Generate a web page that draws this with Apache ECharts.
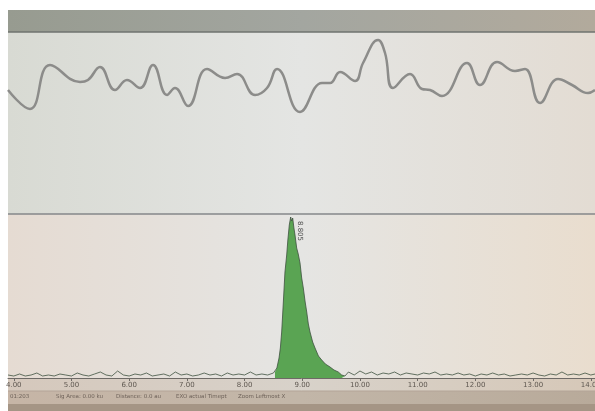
<!DOCTYPE html>
<html>
<head>
<meta charset="utf-8">
<script src="https://cdn.jsdelivr.net/npm/echarts@6/dist/echarts.min.js"></script>
<style>
html,body{margin:0;padding:0;background:#fff;}
#c{width:595px;height:411px;}
</style>
</head>
<body>
<div id="c"></div>
<script>
// ---- data ----
var waveTimes = [3.900,4.281,4.628,5.148,5.286,5.494,5.754,5.962,6.188,6.413,6.656,6.794,7.020,7.349,7.661,7.869,8.181,8.389,8.562,8.961,9.342,9.481,9.655,9.915,10.053,10.313,10.434,10.572,10.867,11.075,11.214,11.422,11.855,12.080,12.375,12.687,12.860,13.120,13.432,13.675,13.952,14.073];
var waveValues = [124,105,149,132,134,147,124,134,126,149,119,126,108,145,136,140,119,126,145,102,131,131,142,133,151,174,161,126,140,125,124,118,151,129,152,143,145,111,135,129,121,124];

var noiseLeft = [[3.9,3],[4.0,2],[4.1,4],[4.2,2],[4.3,3],[4.4,5],[4.5,2],[4.6,3],[4.7,2],[4.8,4],[4.9,3],[5.0,2],[5.1,5],[5.2,3],[5.3,2],[5.4,4],[5.5,6],[5.6,3],[5.7,2],[5.8,7],[5.9,3],[6.0,2],[6.1,4],[6.2,3],[6.3,5],[6.4,2],[6.5,3],[6.6,4],[6.7,2],[6.8,6],[6.9,3],[7.0,4],[7.1,2],[7.2,3],[7.3,5],[7.4,3],[7.5,4],[7.6,2],[7.7,5],[7.8,3],[7.9,4],[8.0,3],[8.1,6],[8.2,3],[8.3,4],[8.4,3],[8.5,5]];
var peakPoints = [[8.527,6],[8.560,10],[8.597,20],[8.620,30],[8.643,46],[8.670,74],[8.700,106],[8.730,123],[8.750,138],[8.775,153],[8.799,161],[8.815,157],[8.834,160],[8.855,150],[8.874,143],[8.903,130],[8.930,124],[8.961,115],[8.990,100],[9.018,90],[9.050,76],[9.077,66],[9.105,54],[9.134,46],[9.180,36],[9.221,30],[9.280,22],[9.337,18],[9.400,14],[9.481,11],[9.550,8],[9.624,6],[9.683,3],[9.740,2]];
var noiseRight = [[9.8,6],[9.9,3],[10.0,7],[10.1,4],[10.2,6],[10.3,3],[10.4,5],[10.5,4],[10.6,6],[10.7,3],[10.8,5],[10.9,4],[11.0,3],[11.1,5],[11.2,4],[11.3,6],[11.4,3],[11.5,4],[11.6,3],[11.7,5],[11.8,3],[11.9,4],[12.0,2],[12.1,4],[12.2,3],[12.3,5],[12.4,3],[12.5,4],[12.6,2],[12.7,3],[12.8,4],[12.9,3],[13.0,5],[13.1,3],[13.2,2],[13.3,4],[13.4,3],[13.5,6],[13.6,3],[13.7,4],[13.8,3],[13.9,5],[14.0,3],[14.073,4]];
var tickLabels = [4,5,6,7,8,9,10,11,12,13,14];
var peakLabel = "8.805";
var peakTime = 8.799, peakValue = 161;
var statusTexts = ["01:203", "Sig Area: 0.00 ku", "Distance: 0.0 au", "EXO actual Timept", "Zoom Leftmost X"];

// ---- chart ----
var chart = echarts.init(document.getElementById('c'), null, {renderer:'canvas'});
var trace = noiseLeft.concat(peakPoints, noiseRight);

function lg(x1,y1,x2,y2,stops){return new echarts.graphic.LinearGradient(x1,y1,x2,y2,stops.map(function(s){return {offset:s[0],color:s[1]};}));}

var statusX = [10, 56, 116, 176, 238];
var graphics = [
  {type:'rect', z:-10, silent:true, shape:{x:8,y:10,width:587,height:22}, style:{fill:lg(0,0,1,0,[[0,'#979b90'],[0.5,'#a3a6a0'],[1,'#b2aa9c']])}},
  {type:'rect', z:-10, silent:true, shape:{x:8,y:32,width:587,height:182}, style:{fill:lg(0,0,1,0,[[0,'#d8dad3'],[0.5,'#e4e5e3'],[1,'#e3dcd3']])}},
  {type:'rect', z:-10, silent:true, shape:{x:8,y:214,width:587,height:164}, style:{fill:lg(0,0,1,0,[[0,'#e5dbd2'],[0.5,'#e5e5e3'],[1,'#e9ddce']])}},
  {type:'rect', z:-10, silent:true, shape:{x:8,y:378,width:587,height:13}, style:{fill:lg(0,0,1,0,[[0,'#d5c8bc'],[0.5,'#d8d2ca'],[1,'#d6c8b8']])}},
  {type:'rect', z:-10, silent:true, shape:{x:8,y:391,width:587,height:13}, style:{fill:lg(0,0,1,0,[[0,'#c6b5a6'],[0.5,'#c2b6a8'],[1,'#b8aa9a']])}},
  {type:'rect', z:-10, silent:true, shape:{x:8,y:404,width:587,height:7}, style:{fill:'#a59585'}},
  {type:'line', z:5, silent:true, shape:{x1:8,y1:32,x2:595,y2:32}, style:{stroke:'#6f736f',lineWidth:1.5}},
  {type:'line', z:5, silent:true, shape:{x1:8,y1:214,x2:595,y2:214}, style:{stroke:'#85878a',lineWidth:1.5}},
  {type:'line', z:5, silent:true, shape:{x1:8,y1:391,x2:595,y2:391}, style:{stroke:'#b3a497',lineWidth:1}}
];
statusTexts.forEach(function(t,i){
  graphics.push({type:'text', z:6, silent:true, x:statusX[i], y:397, style:{text:t, fill:'#6e6259', font:'5.5px "DejaVu Sans"', verticalAlign:'middle'}});
});

chart.setOption({
  animation:false,
  backgroundColor:'#ffffff',
  graphic: graphics,
  grid:[
    {left:8, right:0, top:32, height:182, outerBoundsMode:'none', containLabel:false},
    {left:8, right:0, top:214, height:164, outerBoundsMode:'none', containLabel:false}
  ],
  xAxis:[
    {gridIndex:0, type:'value', min:3.9, max:14.073, show:false},
    {gridIndex:1, type:'value', min:3.9, max:14.073,
     axisLine:{show:true, lineStyle:{color:'#6e6a66', width:1}},
     axisTick:{show:true, customValues:tickLabels, length:3, inside:false, lineStyle:{color:'#6e6a66'}},
     splitLine:{show:false},
     axisLabel:{show:true, customValues:tickLabels, formatter:function(v){return v.toFixed(2);}, fontSize:7, color:'#5e5750', margin:4, fontFamily:'DejaVu Sans', hideOverlap:false}}
  ],
  yAxis:[
    {gridIndex:0, type:'value', min:0, max:182, show:false},
    {gridIndex:1, type:'value', min:0, max:164, show:false}
  ],
  series:[
    {type:'line', xAxisIndex:0, yAxisIndex:0, data:waveTimes.map(function(t,i){return [t,waveValues[i]];}),
     smooth:0.45, symbol:'none', lineStyle:{color:'#8c8c8a', width:2.5}},
    {type:'line', xAxisIndex:1, yAxisIndex:1, data:peakPoints, symbol:'none', z:2,
     lineStyle:{width:0}, areaStyle:{color:'#5aa453', opacity:1},
     markPoint:{symbol:'circle', symbolSize:0, data:[{coord:[peakTime,peakValue]}],
       label:{show:true, formatter:peakLabel, rotate:-90, offset:[14,-9], fontSize:7, color:'#4f4f4f', fontFamily:'DejaVu Sans'}}},
    {type:'line', xAxisIndex:1, yAxisIndex:1, data:trace, symbol:'none', z:3,
     lineStyle:{color:'#3f5240', width:0.8}}
  ]
});
</script>
</body>
</html>
